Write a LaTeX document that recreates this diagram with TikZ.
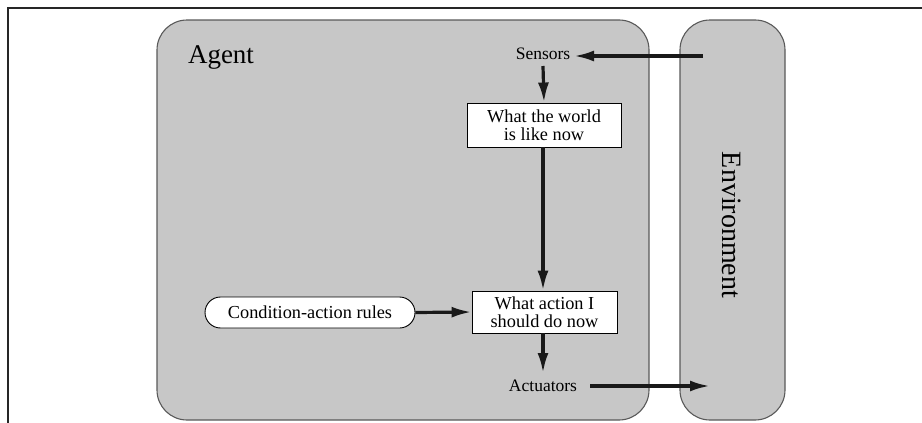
\documentclass[tikz,border=0pt]{standalone}
\usepackage{fontspec}
\setmainfont{Liberation Serif}
\usetikzlibrary{arrows.meta}
\begin{document}
\begin{tikzpicture}[x=1pt,y=-1pt,
  region/.style={draw=black!65,line width=1.1pt,fill=black!22,rounded corners=30pt},
  boxnode/.style={draw=black,line width=0.9pt,fill=white,align=center,inner sep=0pt,
    font=\fontsize{18.3}{18.5}\selectfont},
  lbl/.style={inner sep=0pt,font=\fontsize{17.5}{18.5}\selectfont},
  arr/.style={draw=black!90,line width=3.2pt,-{Latex[length=20pt,width=11pt]}},
  frame/.style={draw=black!85,line width=1.3pt}]
\useasboundingbox (0,0) rectangle (922,423);
% frame lines
\coordinate (f1) at (8,423);
\coordinate (f2) at (8,8);
\coordinate (f3) at (922,8);
\draw[frame] (f1) -- (f2) -- (f3);
% regions
\draw[region] (157,20) rectangle (649,420);
\draw[region] (680,20) rectangle (785,420);
\node[inner sep=0pt,font=\fontsize{27}{30}\selectfont] (agent) at (221,58) {Agent};
\node[inner sep=0pt,rotate=-90,font=\fontsize{28}{30}\selectfont] (env) at (732,225) {Environment};
% nodes
\node[lbl] (sens) at (543,54) {Sensors};
\node[boxnode,minimum width=154pt,minimum height=44pt] (world) at (544,125) {What the world\\is like now};
\node[boxnode,minimum width=145pt,minimum height=42pt] (action) at (544.5,312) {What action I\\should do now};
\node[draw=black,line width=0.9pt,fill=white,rounded corners=15.5pt,minimum width=210pt,minimum height=31pt,inner sep=0pt,
  font=\fontsize{18.3}{18.5}\selectfont] (rules) at (310,312.5) {Condition-action rules};
\node[lbl] (act) at (543,386) {Actuators};
\coordinate (envin) at (703,56);
\coordinate (sensin) at (574,56);
\coordinate (sensout) at (543,66);
\coordinate (actin) at (543,373);
\coordinate (actout) at (590,386);
\coordinate (envout) at (710,386);
% connectors
\draw[arr] (envin) -- (sensin);
\draw[arr] (sensout) -- (world.north);
\draw[arr] ([xshift=-1pt]world.south) -- ([xshift=-1.5pt]action.north);
\draw[arr] (rules.east) -- (action.west);
\draw[arr] ([xshift=-1.5pt]action.south) -- (actin);
\draw[arr] (actout) -- (envout);
\end{tikzpicture}
\end{document}
